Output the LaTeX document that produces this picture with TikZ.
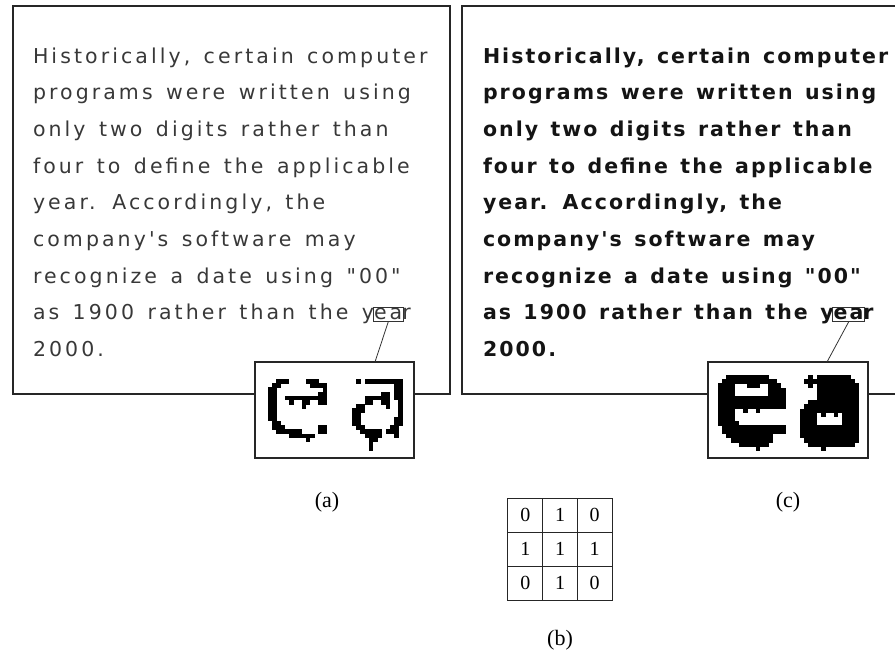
\documentclass[tikz,border=0pt]{standalone}
\usepackage{fontspec}
\setmainfont{Liberation Serif}
\newfontfamily\scrfont[Ligatures=TeXOff,LetterSpace=15,WordSpace=1.4]{DejaVu Sans}
\newfontfamily\scrbold[Ligatures=TeXOff,LetterSpace=10,WordSpace=1.35]{DejaVu Sans Bold}
\usetikzlibrary{fit,calc}

\def\cell{4.2}
% draw a bitmap glyph: #1,#2 = top-left corner, #3 = list of row/{columns}
\newcommand\pixglyph[3]{%
  \foreach \rw/\cs in {#3}{%
    \foreach \cl in \cs{%
      \fill[pixfill] ({#1+\cl*\cell},{#2+\rw*\cell}) rectangle ++({\cell+0.35},{\cell+0.35});
    }%
  }%
}

\begin{document}
\begin{tikzpicture}[x=1pt,y=-1pt,
  frame/.style={draw=black!85,line width=1.1pt},
  regtxt/.style={anchor=base west,inner sep=0,outer sep=0,text=black!78,
    font=\scrfont\fontsize{20.5}{21}\selectfont},
  boldtxt/.style={anchor=base west,inner sep=0,outer sep=0,text=black!92,
    font=\scrbold\fontsize{20.5}{21}\selectfont},
  eabox/.style={draw=black!80,line width=0.8pt,inner xsep=1pt,inner ysep=1.5pt},
  inset/.style={draw=black!85,line width=1.1pt,fill=white,anchor=north west,
    inner sep=0,outer sep=0,minimum width=#1pt,minimum height=96pt},
  conn/.style={draw=black!80,line width=0.8pt},
  pixfill/.style={fill=black},
  cellbox/.style={draw=black!85,line width=1pt,minimum width=34.7pt,minimum height=34pt,
    inner sep=0,font=\fontsize{20}{20}\selectfont},
  caption/.style={font=\fontsize{22}{22}\selectfont}]

\useasboundingbox (0,0) rectangle (895,657);
\clip (0,0) rectangle (895,657);

% ---------- panel (a): original text ----------
\draw[frame] (13,394) -- (13,6) -- (450,6) -- (450,394) -- cycle;

\node[regtxt] (a1) at (33,63)    {Historically, certain computer};
\node[regtxt] (a2) at (33,99.7)  {programs were written using};
\node[regtxt] (a3) at (33,136.4) {only two digits rather than};
\node[regtxt] (a4) at (33,173.1) {four to define the applicable};
\node[regtxt] (a5) at (33,209.8) {year. Accordingly, the};
\node[regtxt] (a6) at (33,246.5) {company's software may};
\node[regtxt] (a7) at (33,283.2) {recognize a date using "00"};
\node[regtxt] (a8) at (33,319.9) {as 1900 rather than the y};
\node[regtxt] (a8ea) at (a8.base east) {ea};
\node[regtxt] (a8r) at (a8ea.base east) {r};
\node[regtxt] (a9) at (33,356.6) {2000.};
\node[eabox,fit=(a8ea)] (boxA) {};

\node[inset=159] (insA) at (255,362) {};
\coordinate (tA) at ([xshift=120pt]insA.north west);
\draw[conn] (boxA.south) -- (tA);

% thin (eroded) e and a
\pixglyph{268}{379}{0/{2,3,4,9,10,11}, 1/{1,2,10,11,12,13}, 2/{0,1,13}, 3/{0,1,12,13},
  4/{0,1,4,5,6,7,8,9,10,11,12,13}, 5/{0,1,5,8,9,12,13}, 6/{0,1,8}, 7/{0,1}, 8/{0,1},
  9/{0,1}, 10/{1,2}, 11/{1,2,3,12,13}, 12/{2,3,4,5,6,7,12,13}, 13/{5,6,7,8,9,10}, 14/{9}}
\pixglyph{352}{379}{0/{1,3,4,5,6,7,8,9,10,11}, 1/{10,11}, 2/{10,11}, 3/{7,8,10,11},
  4/{3,4,5,6,7,8,10,11}, 5/{3,4,7,8,11}, 6/{1,2,8,11}, 7/{0,1,2,11}, 8/{0,1,11},
  9/{0,1,10,11}, 10/{0,1,10,11}, 11/{1,2,9,10}, 12/{2,3,4,5,6,8,9,10},
  13/{3,4,5,6,10}, 14/{4,5}, 15/{4}, 16/{4}}

% ---------- panel (c): dilated text ----------
\draw[frame] (900,6) -- (462,6) -- (462,394) -- (900,394);

\node[boldtxt] (c1) at (483,63)    {Historically, certain computer};
\node[boldtxt] (c2) at (483,99.7)  {programs were written using};
\node[boldtxt] (c3) at (483,136.4) {only two digits rather than};
\node[boldtxt] (c4) at (483,173.1) {four to define the applicable};
\node[boldtxt] (c5) at (483,209.8) {year. Accordingly, the};
\node[boldtxt] (c6) at (483,246.5) {company's software may};
\node[boldtxt] (c7) at (483,283.2) {recognize a date using "00"};
\node[boldtxt] (c8) at (483,319.9) {as 1900 rather than the y};
\node[boldtxt] (c8ea) at (c8.base east) {ea};
\node[boldtxt] (c8r) at (c8ea.base east) {r};
\node[boldtxt] (c9) at (483,356.6) {2000.};
\node[eabox,fit=(c8ea)] (boxC) {};

\node[inset=160] (insC) at (708,362) {};
\coordinate (tC) at ([xshift=119pt]insC.north west);
\draw[conn] (boxC.south) -- (tC);

% thick (dilated) e and a
\pixglyph{718}{375}{0/{2,...,11}, 1/{1,...,13}, 2/{0,1,2,3,7,8,9,12,13,14},
  3/{0,1,2,3,12,13,14,15}, 4/{0,1,2,3,12,13,14,15}, 5/{0,...,15}, 6/{0,...,15},
  7/{0,...,15}, 8/{0,1,2,3,6,9}, 9/{0,1,2,3}, 10/{0,1,2,3}, 11/{0,1,2,3,4},
  12/{1,...,15}, 13/{1,...,15}, 14/{2,...,12}, 15/{3,...,12}, 16/{5,...,11}, 17/{9}}
\pixglyph{800}{375}{0/{2,4,5,6,7,8,9,10,11}, 1/{1,...,12}, 2/{2,4,5,6,7,8,9,10,11,12,13},
  3/{4,...,13}, 4/{4,...,13}, 5/{4,...,13}, 6/{2,...,13}, 7/{1,...,13}, 8/{0,...,13},
  9/{0,1,2,3,5,8,10,11,12,13}, 10/{0,1,2,3,10,11,12,13}, 11/{0,1,2,3,10,11,12,13},
  12/{0,...,13}, 13/{0,...,13}, 14/{0,...,13}, 15/{1,...,13}, 16/{2,...,12}, 17/{5}}

% ---------- structuring element (b) ----------
\foreach \rr/\cc/\v in {1/1/0,1/2/1,1/3/0,2/1/1,2/2/1,2/3/1,3/1/0,3/2/1,3/3/0}{
  \node[cellbox] (g\rr\cc) at ({508+34.67*(\cc-0.5)},{498+34*(\rr-0.5)}) {\v};
}

% ---------- captions ----------
\node[caption] (capA) at (327,502) {(a)};
\node[caption] (capC) at (788,502) {(c)};
\node[caption] (capB) at (560,640) {(b)};
\end{tikzpicture}
\end{document}
